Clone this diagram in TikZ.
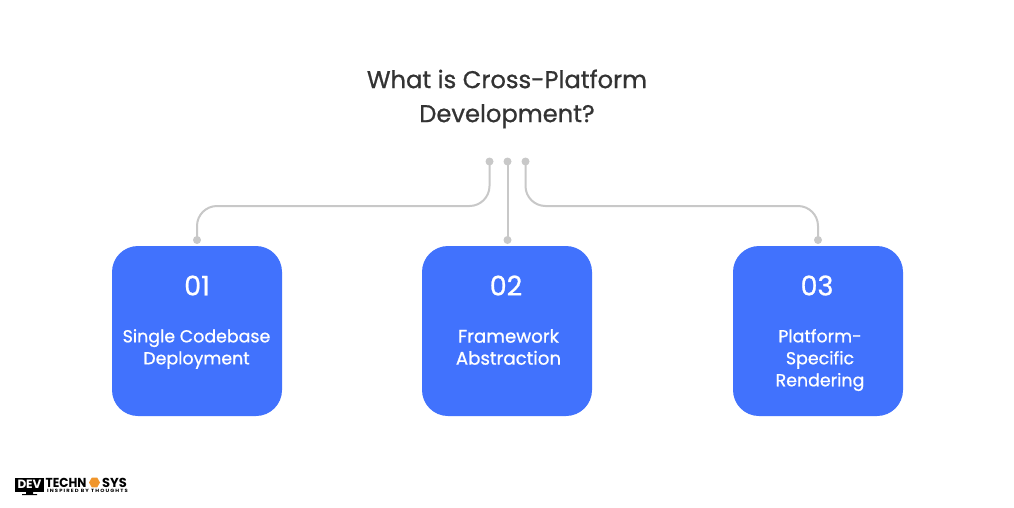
\documentclass[tikz,border=0pt]{standalone}
\usepackage{fontspec}
\usetikzlibrary{shapes.geometric}
\setmainfont{Poppins}[FakeBold=0.8]
\newfontfamily\plainpop{Poppins}
\definecolor{boxblue}{HTML}{4172FD}
\definecolor{linegray}{HTML}{C8C8C8}
\definecolor{inkdark}{HTML}{333333}
\definecolor{logoorange}{HTML}{F0952A}
\tikzset{
  cardbox/.style={fill=boxblue,rounded corners=26pt,minimum width=170pt,minimum height=170pt,inner sep=0pt},
  dotnode/.style={circle,fill=linegray,minimum size=8pt,inner sep=0pt},
  wire/.style={draw=linegray,line width=2pt,rounded corners=20pt},
  titletext/.style={text=inkdark,font=\fontsize{24.2}{34}\selectfont,align=center},
  numtext/.style={text=white,font=\fontsize{27}{28}\selectfont},
  cardtext/.style={text=white,font=\fontsize{17.4}{22}\selectfont,align=center},
  logotext/.style={anchor=west,text=black,font=\plainpop\bfseries\fontsize{13}{13}\selectfont,inner sep=0pt,text height=9pt,text depth=0pt}
}
\begin{document}
\begin{tikzpicture}[x=1pt,y=-1pt]
\useasboundingbox (0,0) rectangle (1014,507);
\fill[white] (0,0) rectangle (1014,507);
\node[titletext] (title) at (507,99) {What is Cross-Platform\\Development?};
\node[cardbox] (c1) at (197,331) {};
\node[cardbox] (c2) at (507,331) {};
\node[cardbox] (c3) at (818,331) {};
\node[dotnode] (t1) at (489.5,161.5) {};
\node[dotnode] (t2) at (507.5,161.5) {};
\node[dotnode] (t3) at (525.5,161.5) {};
\node[dotnode] (b1) at (197,240) {};
\node[dotnode] (b2) at (507.5,240) {};
\node[dotnode] (b3) at (818,240) {};
\coordinate (k1) at (0,206);
\draw[wire] (t1.center) -- (t1.center |- k1) -- (b1.center |- k1) -- (b1.center);
\draw[wire] (t2.center) -- (b2.center);
\draw[wire] (t3.center) -- (t3.center |- k1) -- (b3.center |- k1) -- (b3.center);
\node[numtext] (n1) at (197,285.5) {01};
\node[numtext] (n2) at (506,285.5) {02};
\node[numtext] (n3) at (817,285.5) {03};
\node[cardtext] (l1) at (196.5,349) {Single Codebase\\Deployment};
\node[cardtext,font=\fontsize{18.2}{22}\selectfont] (l2) at (508.5,347) {Framework\\Abstraction};
\node[cardtext] (l3) at (820,360) {Platform-\\Specific\\Rendering};
% logo
\fill[black] (15,477.5) rectangle (44,491.5);
\fill[black] (26,491.5) rectangle (33,494) (22,494) rectangle (37,495);
\node[text=white,font=\plainpop\bfseries\fontsize{12}{12}\selectfont,inner sep=0pt] (ld) at (29.5,484.5) {DEV};
\node[logotext,xscale=0.93] (lt) at (45.5,482.5) {TECHN};
\node[regular polygon,regular polygon sides=6,fill=logoorange,minimum size=11pt,inner sep=0pt] (lh) at (94.5,482.5) {};
\node[logotext] (ls) at (102,482.5) {SYS};
\node[logotext,font=\plainpop\bfseries\fontsize{4.6}{5}\selectfont,text height=4pt,xscale=1.14] (lq) at (47,490.5) {I N S P I R E D\ \ B Y\ \ T H O U G H T S};
\end{tikzpicture}
\end{document}
